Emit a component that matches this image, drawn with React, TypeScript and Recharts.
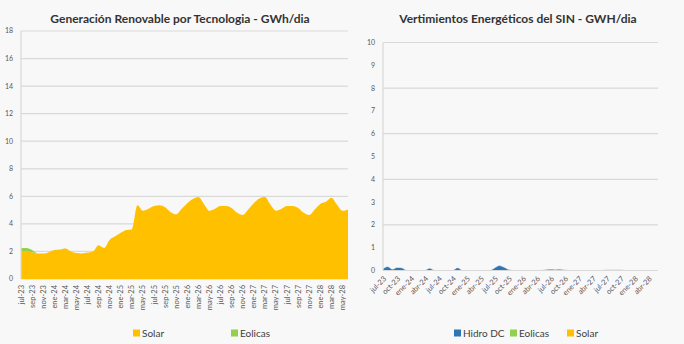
import React from 'react';
import { AreaChart, Area, XAxis, YAxis, CartesianGrid } from 'recharts';

const months = [
  'jul-23','ago-23','sep-23','oct-23','nov-23','dic-23',
  'ene-24','feb-24','mar-24','abr-24','may-24','jun-24','jul-24','ago-24','sep-24','oct-24','nov-24','dic-24',
  'ene-25','feb-25','mar-25','abr-25','may-25','jun-25','jul-25','ago-25','sep-25','oct-25','nov-25','dic-25',
  'ene-26','feb-26','mar-26','abr-26','may-26','jun-26','jul-26','ago-26','sep-26','oct-26','nov-26','dic-26',
  'ene-27','feb-27','mar-27','abr-27','may-27','jun-27','jul-27','ago-27','sep-27','oct-27','nov-27','dic-27',
  'ene-28','feb-28','mar-28','abr-28','may-28','jun-28',
];

const solarGen = [
  2.02, 2.0, 1.95, 1.85, 1.85, 1.95,
  2.1, 2.15, 2.22, 2.0, 1.88, 1.85, 1.92, 2.0, 2.45, 2.25, 2.85, 3.1,
  3.35, 3.55, 3.6, 5.35, 4.95, 5.1, 5.3, 5.35, 5.2, 4.85, 4.7, 5.1,
  5.5, 5.8, 5.95, 5.45, 4.95, 5.1, 5.3, 5.3, 5.15, 4.8, 4.65, 5.05,
  5.5, 5.85, 5.95, 5.4, 4.95, 5.1, 5.3, 5.3, 5.15, 4.8, 4.65, 5.05,
  5.45, 5.6, 5.9, 5.4, 4.95, 5.05,
];

const eolicasGen = [
  0.22, 0.25, 0.15, 0, 0, 0,
  0, 0, 0, 0, 0, 0, 0, 0, 0, 0, 0, 0,
  0, 0, 0, 0, 0, 0, 0, 0, 0, 0, 0, 0,
  0, 0, 0, 0, 0, 0, 0, 0, 0, 0, 0, 0,
  0, 0, 0, 0, 0, 0, 0, 0, 0, 0, 0, 0,
  0, 0, 0, 0, 0, 0,
];

const hidroVert = [
  0.05, 0.15, 0.03, 0.11, 0.1, 0,
  0, 0, 0, 0, 0.08, 0, 0, 0, 0, 0, 0.1, 0,
  0, 0, 0, 0, 0, 0, 0.1, 0.2, 0.12, 0.02, 0, 0,
  0, 0, 0, 0, 0, 0.02, 0.03, 0.02, 0.03, 0.01, 0, 0,
  0, 0, 0, 0, 0, 0, 0.01, 0.01, 0.01, 0.01, 0, 0,
  0, 0, 0, 0, 0, 0,
];

const eolicasVert = new Array(60).fill(0);
const solarVert = new Array(60).fill(0);

const leftTicks = [0, 2, 4, 6, 8, 10, 12, 14, 16, 18];
const rightTicks = [0, 1, 2, 3, 4, 5, 6, 7, 8, 9, 10];

const leftTitle = 'Generación Renovable por Tecnologia - GWh/dia';
const rightTitle = 'Vertimientos Energéticos del SIN - GWH/dia';

const leftLegend = [
  { name: 'Solar', color: '#FFC000', x: 133 },
  { name: 'Eolicas', color: '#92D050', x: 231 },
];
const rightLegend = [
  { name: 'Hidro DC', color: '#2E75B6', x: 104 },
  { name: 'Eolicas', color: '#92D050', x: 160 },
  { name: 'Solar', color: '#FFC000', x: 217 },
];

const leftData = months.map((m, i) => ({ mes: m, Solar: solarGen[i], Eolicas: eolicasGen[i] }));
const rightData = months.map((m, i) => ({
  mes: m,
  'Hidro DC': hidroVert[i],
  Eolicas: eolicasVert[i],
  Solar: solarVert[i],
}));

const FONT = 'Lato, "Open Sans", sans-serif';
const TICK = '#595959';
const GRID = '#d9d9d9';

const LeftXTick = (props: any) => {
  const { x, y, payload } = props;
  return (
    <text x={x} y={y} transform={`rotate(-90 ${x} ${y})`} textAnchor="end" dominantBaseline="central"
      fontSize={7.5} fill={TICK} fontFamily={FONT}>{payload.value}</text>
  );
};

const RightXTick = (props: any) => {
  const { x, y, payload } = props;
  return (
    <text x={x + 2} y={y} transform={`rotate(-45 ${x + 2} ${y})`} textAnchor="end" dominantBaseline="central"
      fontSize={7.5} fill={TICK} fontFamily={FONT}>{payload.value}</text>
  );
};

const LegendItems = ({ items, y }: { items: any[]; y: number }) => (
  <g>
    {items.map((it) => (
      <g key={it.name}>
        <rect x={it.x} y={y - 3.5} width={7} height={7} fill={it.color} />
        <text x={it.x + 9} y={y} dominantBaseline="central" fontSize={10} fill="#404040" fontFamily={FONT}>{it.name}</text>
      </g>
    ))}
  </g>
);

export default function App() {
  return (
    <div style={{ position: 'absolute', left: 0, top: 0, width: 684, height: 344, background: '#f8f8f8' }}>
      <div style={{ position: 'absolute', left: 0, top: 0 }}>
        <AreaChart width={350} height={344} data={leftData} margin={{ top: 31, right: 2, left: 3, bottom: 0 }}>
          <CartesianGrid vertical={false} stroke={GRID} strokeWidth={1.2} />
          <XAxis dataKey="mes" interval={1} tickLine={false} axisLine={false} tickMargin={0} height={65}
            tick={<LeftXTick />} />
          <YAxis width={18} domain={[0, 18]} ticks={leftTicks} tickLine={false}
            axisLine={{ stroke: GRID, strokeWidth: 1.2 }}
            tick={{ fontSize: 7, fill: TICK, fontFamily: FONT }} />
          <Area type="monotone" dataKey="Solar" stackId="a" stroke="none" fill="#FFC000" fillOpacity={1} isAnimationActive={false} />
          <Area type="monotone" dataKey="Eolicas" stackId="a" stroke="none" fill="#92D050" fillOpacity={1} isAnimationActive={false} />
          <text x={180} y={18} textAnchor="middle" dominantBaseline="central" fontSize={12} fontWeight="bold" fill="#333333" fontFamily={FONT}>{leftTitle}</text>
          <LegendItems items={leftLegend} y={333} />
        </AreaChart>
      </div>
      <div style={{ position: 'absolute', left: 350, top: 0 }}>
        <AreaChart width={334} height={344} data={rightData} margin={{ top: 42.5, right: 26, left: 3, bottom: 0 }}>
          <CartesianGrid vertical={false} stroke={GRID} strokeWidth={1.2} />
          <XAxis dataKey="mes" interval={2} tickLine={false} axisLine={{ stroke: GRID, strokeWidth: 1.2 }} tickMargin={1} height={73.5}
            tick={<RightXTick />} />
          <YAxis width={30} domain={[0, 10]} ticks={rightTicks} tickLine={false}
            axisLine={{ stroke: GRID, strokeWidth: 1.2 }}
            tick={{ fontSize: 7, fill: TICK, fontFamily: FONT }} />
          <Area type="monotone" dataKey="Hidro DC" stackId="b" stroke="#2E75B6" strokeWidth={0.5} fill="#2E75B6" fillOpacity={1} isAnimationActive={false} />
          <Area type="monotone" dataKey="Eolicas" stackId="b" stroke="none" fill="#92D050" fillOpacity={1} isAnimationActive={false} />
          <Area type="monotone" dataKey="Solar" stackId="b" stroke="none" fill="#FFC000" fillOpacity={1} isAnimationActive={false} />
          <text x={168} y={18} textAnchor="middle" dominantBaseline="central" fontSize={12} fontWeight="bold" fill="#333333" fontFamily={FONT}>{rightTitle}</text>
          <LegendItems items={rightLegend} y={333} />
        </AreaChart>
      </div>
    </div>
  );
}
